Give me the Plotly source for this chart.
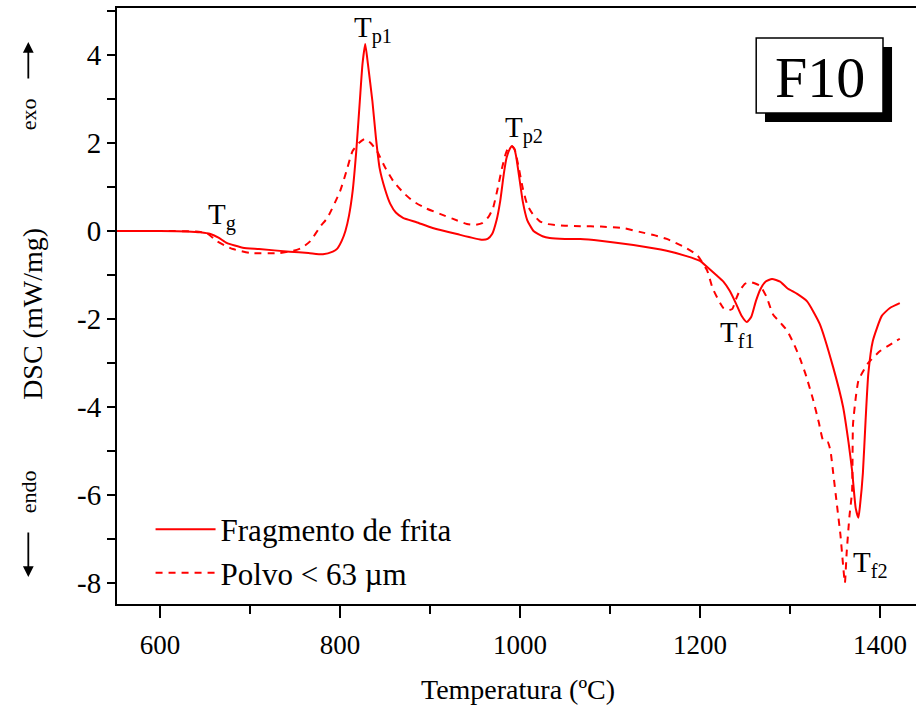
import plotly.graph_objects as go

# DSC curves of frit F10: heat flow (mW/mg) versus temperature (ºC)
temp_frag = [552, 600, 630, 645, 656, 665, 674, 683, 692, 710, 744, 765, 781, 792, 797,
             802, 806, 810, 814, 818, 822, 825, 828, 831, 836, 840, 844, 850, 856, 862, 870,
             885, 903, 930, 958, 964, 969, 974, 978, 982, 985, 989, 991, 994, 996, 1000,
             1003, 1008, 1015, 1025, 1033, 1050, 1067, 1089, 1126, 1163, 1185, 1200, 1208,
             1218, 1226, 1233, 1240, 1246, 1252, 1257, 1262, 1267, 1273, 1280, 1289, 1297,
             1308, 1319, 1333, 1348, 1359, 1365, 1369, 1373, 1376, 1378, 1381, 1384, 1387,
             1392, 1402, 1411, 1422]
dsc_frag = [0.0, 0.0, -0.01, -0.03, -0.07, -0.15, -0.27, -0.33, -0.38, -0.41, -0.47, -0.5,
            -0.53, -0.47, -0.4, -0.22, 0.0, 0.35, 0.9, 1.8, 2.95, 3.8, 4.25, 3.8, 2.95, 2.1,
            1.43, 0.95, 0.61, 0.42, 0.3, 0.2, 0.07, -0.07, -0.2, -0.18, -0.07, 0.25, 0.68,
            1.3, 1.66, 1.88, 1.93, 1.85, 1.66, 1.1, 0.68, 0.25, 0.0, -0.12, -0.16, -0.18,
            -0.18, -0.22, -0.32, -0.45, -0.57, -0.68, -0.82, -1.0, -1.15, -1.36, -1.65,
            -1.92, -2.07, -1.95, -1.6, -1.33, -1.15, -1.09, -1.15, -1.3, -1.43, -1.6, -2.11,
            -3.1, -4.0, -4.8, -5.45, -6.3, -6.52, -6.2, -5.5, -4.3, -3.25, -2.5, -1.93,
            -1.75, -1.64]

temp_polvo = [552, 600, 640, 652, 663, 672, 681, 700, 733, 748, 757, 767, 778, 786, 800,
              807, 814, 821, 828, 834, 841, 850, 859, 870, 881, 895, 911, 925, 941, 950,
              958, 965, 970, 975, 980, 984, 987, 991, 994, 998, 1003, 1008, 1014, 1022,
              1030, 1050, 1067, 1090, 1114, 1133, 1150, 1163, 1185, 1197, 1203, 1208, 1214,
              1220, 1226, 1232, 1236, 1240, 1244, 1250, 1256, 1262, 1267, 1274, 1281, 1290,
              1297, 1305, 1311, 1318, 1326, 1332, 1337, 1342, 1345, 1348, 1352, 1356, 1359,
              1361, 1363, 1366, 1369, 1370, 1373, 1376, 1381, 1387, 1400, 1410, 1422]
dsc_polvo = [0.0, 0.0, -0.01, -0.05, -0.23, -0.33, -0.41, -0.5, -0.5, -0.45, -0.39, -0.23,
             0.1, 0.3, 0.9, 1.35, 1.82, 2.0, 2.1, 2.0, 1.82, 1.45, 1.14, 0.88, 0.68, 0.52,
             0.39, 0.28, 0.16, 0.14, 0.18, 0.32, 0.52, 0.95, 1.43, 1.75, 1.89, 1.93, 1.86,
             1.5, 0.98, 0.6, 0.39, 0.22, 0.16, 0.12, 0.11, 0.1, 0.07, -0.02, -0.1, -0.18,
             -0.39, -0.55, -0.73, -0.9, -1.3, -1.55, -1.75, -1.8, -1.77, -1.55, -1.36, -1.2,
             -1.16, -1.2, -1.25, -1.5, -1.89, -2.1, -2.27, -2.6, -2.89, -3.3, -3.86, -4.35,
             -4.77, -4.8, -5.0, -5.5, -6.2, -6.9, -7.6, -8.0, -7.3, -6.5, -5.9, -4.4, -3.8,
             -3.4, -3.2, -3.0, -2.73, -2.6, -2.45]

x_ticks = [600, 800, 1000, 1200, 1400]
x_tick_labels = ["600", "800", "1000", "1200", "1400"]
y_ticks = [4, 2, 0, -2, -4, -6, -8]
y_tick_labels = ["4", "2", "0", "-2", "-4", "-6", "-8"]

# characteristic temperatures: (label, T, DSC position of label)
peak_labels = [
    ("T<sub>g</sub>", 669, 0.34),
    ("T<sub>p1</sub>", 837, 4.59),
    ("T<sub>p2</sub>", 1004, 2.3),
    ("T<sub>f1</sub>", 1242, -2.34),
    ("T<sub>f2</sub>", 1389, -7.57),
]

SERIF = "Liberation Serif, Times New Roman, serif"
RED = "#ff0000"

fig = go.Figure()
fig.add_trace(go.Scatter(x=temp_frag, y=dsc_frag, mode="lines", name="Fragmento de frita",
                         line=dict(color=RED, width=2, shape="spline", smoothing=0.5)))
fig.add_trace(go.Scatter(x=temp_polvo, y=dsc_polvo, mode="lines", name="Polvo < 63 µm",
                         line=dict(color=RED, width=2, dash="7px,6px", shape="spline",
                                   smoothing=0.5)))


def paper_text(x, y, text, size, angle=0):
    return dict(x=x, y=y, xref="paper", yref="paper", text=text, showarrow=False,
                xanchor="center", yanchor="middle", textangle=angle,
                font=dict(family=SERIF, size=size, color="black"))


annotations = []
for text, tx, ty in peak_labels:
    annotations.append(dict(x=tx, y=ty, xref="x", yref="y", text=text, showarrow=False,
                            xanchor="center", yanchor="middle",
                            font=dict(family=SERIF, size=29, color="black")))

# axis titles
annotations.append(paper_text(0.502, -0.144, "Temperatura (ºC)", 28))
annotations.append(paper_text(-0.105, 0.487, "DSC (mW/mg)", 28, -90))

# exo / endo indicators
annotations.append(paper_text(-0.111, (604 - 114) / 596, "exo", 22, -90))
annotations.append(dict(x=-0.111, y=(604 - 42) / 596, xref="paper", yref="paper",
                        text="", showarrow=True, arrowhead=2, arrowsize=1.2, arrowwidth=1.8,
                        arrowcolor="black", ax=0, ay=38))
annotations.append(paper_text(-0.111, (604 - 492) / 596, "endo", 22, -90))
annotations.append(dict(x=-0.111, y=(604 - 577) / 596, xref="paper", yref="paper",
                        text="", showarrow=True, arrowhead=2, arrowsize=1.2, arrowwidth=1.8,
                        arrowcolor="black", ax=0, ay=-46))

# sample name box
annotations.append(paper_text(0.8795, 0.8826, "F10", 58))

shapes = [
    dict(type="rect", xref="paper", yref="paper", x0=0.811, x1=0.970, y0=0.8087, y1=0.9346,
         fillcolor="black", line=dict(color="black", width=0), layer="above"),
    dict(type="rect", xref="paper", yref="paper", x0=0.80, x1=0.9587, y0=0.8238, y1=0.9497,
         fillcolor="white", line=dict(color="black", width=1.5), layer="above"),
]

fig.update_layout(
    width=916, height=710,
    margin=dict(l=117, r=0, t=8, b=106),
    paper_bgcolor="white", plot_bgcolor="white",
    font=dict(family=SERIF, size=26, color="black"),
    showlegend=True,
    legend=dict(x=0.042, y=0.17, xanchor="left", yanchor="top",
                bgcolor="rgba(0,0,0,0)", font=dict(family=SERIF, size=31),
                tracegroupgap=0, itemwidth=60),
    annotations=annotations,
    shapes=shapes,
)
fig.update_xaxes(range=[552.2, 1440], showgrid=False, zeroline=False,
                 showline=True, linecolor="black", linewidth=2, mirror=True,
                 ticks="outside", ticklen=12, tickwidth=1.5, tickcolor="black",
                 tickvals=x_ticks, ticktext=x_tick_labels, ticklabelstandoff=4,
                 minor=dict(dtick=100, tick0=0, ticks="outside", ticklen=8,
                            tickwidth=1.5, tickcolor="black"),
                 tickfont=dict(family=SERIF, size=27))
fig.update_yaxes(range=[-8.48, 5.07], showgrid=False, zeroline=False,
                 showline=True, linecolor="black", linewidth=2, mirror=False,
                 ticks="outside", ticklen=8, tickwidth=1.5, tickcolor="black",
                 tickvals=y_ticks, ticktext=y_tick_labels,
                 minor=dict(dtick=1, tick0=0, ticks="outside", ticklen=8,
                            tickwidth=1.5, tickcolor="black"),
                 tickfont=dict(family=SERIF, size=29))

fig.write_html("out.html")
